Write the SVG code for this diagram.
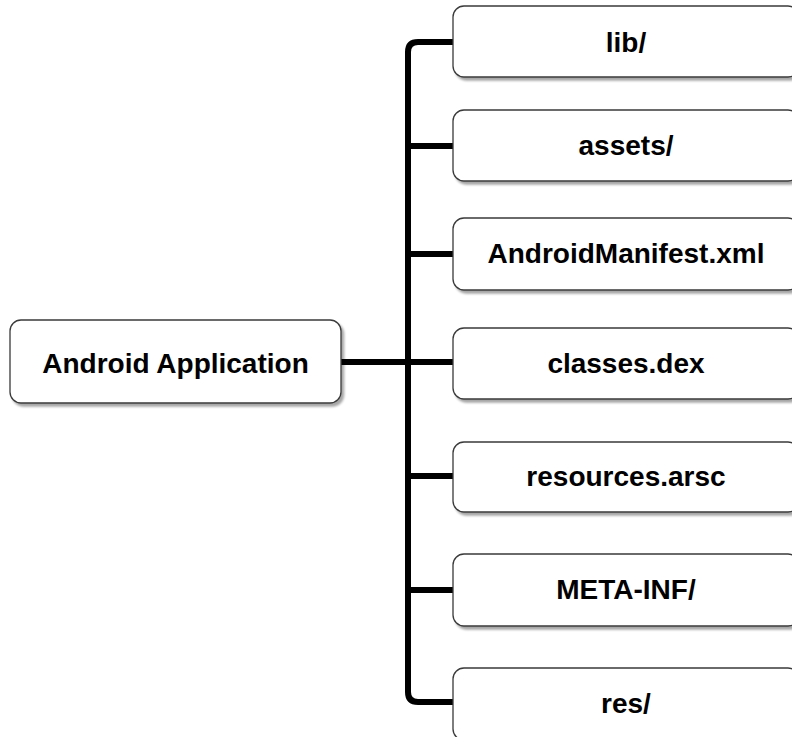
<svg xmlns="http://www.w3.org/2000/svg" width="792" height="737" viewBox="0 0 792 737">
  <defs>
    <filter id="shadow" x="-5%" y="-10%" width="115%" height="130%">
      <feDropShadow dx="2.5" dy="3" stdDeviation="1" flood-color="#000" flood-opacity="0.35"/>
    </filter>
  </defs>
  <style>
    .box { fill: #ffffff; stroke: #3a3a3a; stroke-width: 1.3; filter: url(#shadow); }
    .label { font-family: "Liberation Sans", Arial, Helvetica, sans-serif; font-weight: bold; font-size: 28px; fill: #000; text-anchor: middle; }
    .wire { fill: none; stroke: #000; stroke-width: 6; stroke-linejoin: round; stroke-linecap: butt; }
  </style>

  <rect width="792" height="737" fill="#ffffff"/>

  <!-- connectors: trunk from the root plus one branch per entry -->
  <g id="connectors">
    <path class="wire" d="M341,362 H454"/>
    <path class="wire" d="M454,42 H418 Q408,42 408,52 V692 Q408,702 418,702 H454"/>
    <path class="wire" d="M408,146 H454"/>
    <path class="wire" d="M408,254 H454"/>
    <path class="wire" d="M408,476 H454"/>
    <path class="wire" d="M408,590 H454"/>
  </g>

  <g id="android-application">
    <rect class="box" x="10" y="320" width="331" height="83" rx="11"/>
    <text class="label" x="175.5" y="373">Android Application</text>
  </g>

  <g id="lib">
    <rect class="box" x="453" y="6" width="346" height="71" rx="11"/>
    <text class="label" x="626" y="52">lib/</text>
  </g>

  <g id="assets">
    <rect class="box" x="453" y="110" width="346" height="71" rx="11"/>
    <text class="label" x="626" y="155">assets/</text>
  </g>

  <g id="android-manifest">
    <rect class="box" x="453" y="218" width="346" height="72" rx="11"/>
    <text class="label" x="626" y="263">AndroidManifest.xml</text>
  </g>

  <g id="classes-dex">
    <rect class="box" x="453" y="328" width="346" height="71" rx="11"/>
    <text class="label" x="626" y="373">classes.dex</text>
  </g>

  <g id="resources-arsc">
    <rect class="box" x="453" y="442" width="346" height="70" rx="11"/>
    <text class="label" x="626" y="486">resources.arsc</text>
  </g>

  <g id="meta-inf">
    <rect class="box" x="453" y="554" width="346" height="72" rx="11"/>
    <text class="label" x="626" y="599">META-INF/</text>
  </g>

  <g id="res">
    <rect class="box" x="453" y="668" width="346" height="72" rx="11"/>
    <text class="label" x="626" y="713">res/</text>
  </g>
</svg>
